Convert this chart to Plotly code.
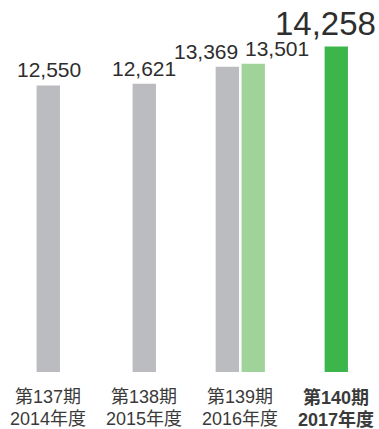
import plotly.graph_objects as go

periods = ["第137期", "第138期", "第139期", "第140期"]
years = ["2014年度", "2015年度", "2016年度", "2017年度"]
gray_x = [0, 1, 1.865]
gray_vals = [12550, 12621, 13369]
light_x = [2.135]
light_vals = [13501]
green_x = [3]
green_vals = [14258]

FONT = "Liberation Sans, Arial, Noto Sans CJK JP, sans-serif"
TXT = "#3a3a3a"
BW = 0.243

fig = go.Figure()
fig.add_trace(go.Bar(x=gray_x, y=gray_vals, width=BW, marker=dict(color="#bbbcc0", line_width=0)))
fig.add_trace(go.Bar(x=light_x, y=light_vals, width=BW, marker=dict(color="#a0d39a", line_width=0)))
fig.add_trace(go.Bar(x=green_x, y=green_vals, width=BW, marker=dict(color="#3cb54a", line_width=0)))

anns = []
xs = gray_x + light_x + green_x
vs = gray_vals + light_vals + green_vals
shifts = [1, 0, -21, 24, -11]
sizes = [21, 21, 21, 21, 33]
for x, v, s, fs in zip(xs, vs, shifts, sizes):
    anns.append(dict(x=x, y=v, xref="x", yref="y", text=f"{v:,}", showarrow=False,
                     yanchor="bottom", xshift=s, yshift=2,
                     font=dict(family=FONT, size=fs, color="#2e2e2e")))
for i, (p, yr) in enumerate(zip(periods, years)):
    bold = i == 3
    t1 = f"<b>{p}</b>" if bold else p
    t2 = f"<b>{yr}</b>" if bold else yr
    anns.append(dict(x=i, y=0, xref="x", yref="y", text=t1, showarrow=False,
                     yanchor="middle", yshift=-25,
                     font=dict(family=FONT, size=18, color=TXT)))
    anns.append(dict(x=i, y=0, xref="x", yref="y", text=t2, showarrow=False,
                     yanchor="middle", yshift=-47,
                     font=dict(family=FONT, size=18, color=TXT)))

fig.update_layout(
    width=379, height=429,
    margin=dict(l=0, r=0, t=0, b=57),
    paper_bgcolor="white", plot_bgcolor="white",
    showlegend=False, barmode="overlay",
    xaxis=dict(range=[-0.503, 3.445], visible=False),
    yaxis=dict(range=[0, 16294], visible=False),
    annotations=anns,
)
fig.write_html("out.html")
